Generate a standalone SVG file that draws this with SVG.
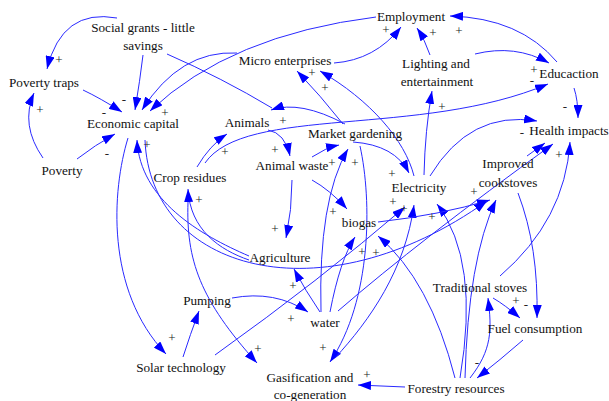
<svg xmlns="http://www.w3.org/2000/svg" width="609" height="401" viewBox="0 0 609 401">
<style>
.n{font-family:"Liberation Serif","Times New Roman",serif;font-size:13.2px;fill:#111;text-anchor:middle}
.p{font-family:"Liberation Serif","Times New Roman",serif;font-size:13px;fill:#222;text-anchor:middle}
.c path{fill:none;stroke:#2a2aff;stroke-width:1}
.c path.a{marker-end:url(#ah)}
</style>
<defs>
<marker id="ah" markerUnits="userSpaceOnUse" markerWidth="13" markerHeight="9" refX="13" refY="4.5" orient="auto">
<path d="M0,0 L13,4.5 L0,9 z" fill="#0000ff"/>
</marker>
</defs>
<rect width="609" height="401" fill="#fff"/>
<g class="c" id="connectors">
<path class="a" d="M117,18 Q62,8 47,69"/>
<path class="a" d="M43,158 Q20,125 34,93"/>
<path class="a" d="M83,90 Q100,98 122,112"/>
<path class="a" d="M77,159 Q95,145 115,134"/>
<path class="a" d="M143,55 Q140,80 135,110"/>
<path class="a" d="M237,53 Q180,50 142,110"/>
<path class="a" d="M376,17 Q230,35 150,111"/>
<path d="M167,54 Q222,78 272,108"/>
<path class="a" d="M345,124 Q300,100 271,110"/>
<path class="a" d="M334,63 Q375,60 401,27"/>
<path class="a" d="M430,55 Q425,40 417,28"/>
<path class="a" d="M557,62 Q520,18 450,16"/>
<path class="a" d="M475,54 Q515,44 549,63"/>
<path class="a" d="M343,124 Q320,95 297,71"/>
<path class="a" d="M414,176 C405,140 370,100 320,71"/>
<path class="a" d="M424,175 Q425,130 432,91"/>
<path class="a" d="M205,163 C245,105 420,138 548,84"/>
<path class="a" d="M197,167 Q210,145 227,134"/>
<path class="a" d="M268,130 Q285,133 290,156"/>
<path class="a" d="M312,157 Q325,148 339,145"/>
<path class="a" d="M312,180 Q330,190 347,209"/>
<path class="a" d="M292,180 Q292,210 286,238"/>
<path class="a" d="M353,142 Q395,145 409,173"/>
<path class="a" d="M321,312 Q318,200 348,149"/>
<path class="a" d="M360,146 C372,200 372,300 330,362"/>
<path class="a" d="M335,358 C370,320 405,270 414,205"/>
<path class="a" d="M215,355 Q320,280 405,207"/>
<path class="a" d="M338,311 Q420,240 553,144"/>
<path class="a" d="M330,312 Q340,260 355,237"/>
<path class="a" d="M320,312 Q305,290 294,269"/>
<path class="a" d="M232,298 Q275,290 308,312"/>
<path class="a" d="M183,357 Q190,335 199,311"/>
<path class="a" d="M188,202 C186,260 200,300 257,363"/>
<path class="a" d="M405,387 L358,385"/>
<path class="a" d="M455,378 Q430,280 378,236"/>
<path class="a" d="M460,378 Q480,260 437,204"/>
<path class="a" d="M465,378 Q468,260 496,200"/>
<path class="a" d="M470,378 C492,350 492,330 488,298"/>
<path class="a" d="M493,298 Q505,305 520,318"/>
<path class="a" d="M518,193 C532,230 538,270 537,318"/>
<path class="a" d="M523,340 Q500,360 477,378"/>
<path class="a" d="M500,276 Q565,220 570,142"/>
<path class="a" d="M527,156 L545,143"/>
<path class="a" d="M430,176 Q470,110 537,121"/>
<path class="a" d="M574,88 Q578,100 578,118"/>
<path class="a" d="M378,222 Q440,215 490,200"/>
<path class="a" d="M145,140 C150,270 320,320 487,201"/>
<path class="a" d="M249,256 C200,235 140,200 137,140"/>
<path class="a" d="M249,260 C220,250 190,230 188,189"/>
<path class="a" d="M128,138 C112,190 105,290 166,354"/>
<g id="polarities">
<text class="p" x="59" y="64">+</text>
<text class="p" x="40" y="114">+</text>
<text class="p" x="124" y="104">-</text>
<text class="p" x="104" y="117">-</text>
<text class="p" x="165" y="117">+</text>
<text class="p" x="107" y="158">-</text>
<text class="p" x="147" y="149">+</text>
<text class="p" x="172" y="342">+</text>
<text class="p" x="199" y="204">+</text>
<text class="p" x="225" y="156">+</text>
<text class="p" x="283" y="125">+</text>
<text class="p" x="275" y="154">+</text>
<text class="p" x="332" y="167">+</text>
<text class="p" x="355" y="167">+</text>
<text class="p" x="312" y="77">+</text>
<text class="p" x="325" y="92">+</text>
<text class="p" x="386" y="34">+</text>
<text class="p" x="433" y="37">+</text>
<text class="p" x="459" y="35">+</text>
<text class="p" x="534" y="74">+</text>
<text class="p" x="532" y="85">-</text>
<text class="p" x="442" y="111">+</text>
<text class="p" x="565" y="111">-</text>
<text class="p" x="522" y="137">-</text>
<text class="p" x="559" y="159">+</text>
<text class="p" x="392" y="178">+</text>
<text class="p" x="393" y="206">+</text>
<text class="p" x="404" y="213">+</text>
<text class="p" x="432" y="221">+</text>
<text class="p" x="474" y="196">+</text>
<text class="p" x="333" y="216">+</text>
<text class="p" x="362" y="256">+</text>
<text class="p" x="376" y="257">+</text>
<text class="p" x="275" y="233">+</text>
<text class="p" x="293" y="290">+</text>
<text class="p" x="291" y="323">+</text>
<text class="p" x="258" y="353">+</text>
<text class="p" x="323" y="352">+</text>
<text class="p" x="367" y="379">+</text>
<text class="p" x="516" y="305">+</text>
<text class="p" x="526" y="309">-</text>
<text class="p" x="477" y="367">-</text>
</g>
</g>
<g id="n-social"><text class="n" x="143" y="32">Social grants - little</text><text class="n" x="143" y="50">savings</text></g>
<g id="n-employment"><text class="n" x="411" y="21">Employment</text></g>
<g id="n-micro"><text class="n" x="285" y="65">Micro enterprises</text></g>
<g id="n-lighting"><text class="n" x="436" y="68">Lighting and</text><text class="n" x="437" y="86">entertainment</text></g>
<g id="n-education"><text class="n" x="569" y="78">Educaction</text></g>
<g id="n-povtraps"><text class="n" x="44" y="87">Poverty traps</text></g>
<g id="n-econcap"><text class="n" x="133" y="128">Economic capital</text></g>
<g id="n-health"><text class="n" x="569" y="135">Health impacts</text></g>
<g id="n-animals"><text class="n" x="247" y="127">Animals</text></g>
<g id="n-market"><text class="n" x="355" y="138">Market gardening</text></g>
<g id="n-improved"><text class="n" x="508" y="168">Improved</text><text class="n" x="508" y="187">cookstoves</text></g>
<g id="n-poverty"><text class="n" x="62" y="175">Poverty</text></g>
<g id="n-crop"><text class="n" x="190" y="182">Crop residues</text></g>
<g id="n-animalwaste"><text class="n" x="292" y="170">Animal waste</text></g>
<g id="n-electricity"><text class="n" x="419" y="192">Electricity</text></g>
<g id="n-biogas"><text class="n" x="359" y="227">biogas</text></g>
<g id="n-agriculture"><text class="n" x="280" y="262">Agriculture</text></g>
<g id="n-tradstoves"><text class="n" x="480" y="292">Traditional stoves</text></g>
<g id="n-pumping"><text class="n" x="207" y="305">Pumping</text></g>
<g id="n-water"><text class="n" x="325" y="327">water</text></g>
<g id="n-fuel"><text class="n" x="535" y="333">Fuel consumption</text></g>
<g id="n-solar"><text class="n" x="181" y="372">Solar technology</text></g>
<g id="n-gasification"><text class="n" x="310" y="382">Gasification and</text><text class="n" x="310" y="399">co-generation</text></g>
<g id="n-forestry"><text class="n" x="456" y="393">Forestry resources</text></g>
</svg>
